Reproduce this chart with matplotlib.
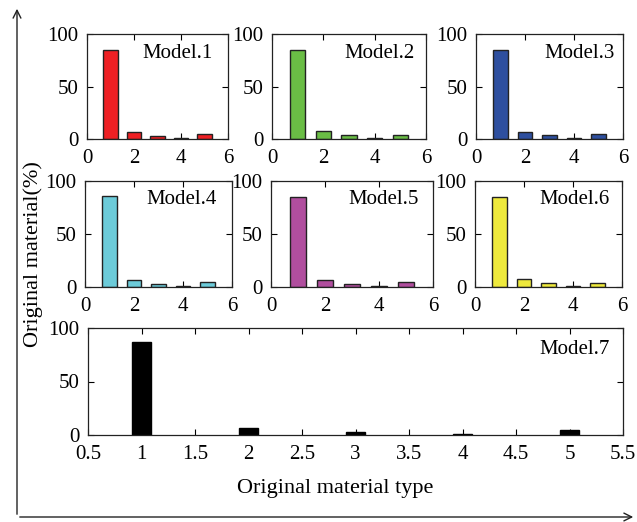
import matplotlib
matplotlib.use('Agg')
import matplotlib.pyplot as plt

plt.rcParams['font.family'] = ['Liberation Serif', 'DejaVu Serif']
plt.rcParams['font.size'] = 15

# original material share (%) per type, one list per model
types = [1, 2, 3, 4, 5]
model1 = [85, 7, 3, 1, 5]
model2 = [85, 8, 4, 1, 4]
model3 = [85, 7, 4, 1, 5]
model4 = [86, 7, 3, 1, 5]
model5 = [85, 7, 3, 1, 5]
model6 = [85, 8, 4, 1, 4]
model7 = [87, 7, 3, 1, 5]

names = ['Model.1', 'Model.2', 'Model.3', 'Model.4', 'Model.5', 'Model.6', 'Model.7']
colors = ['#ee2024', '#6abd45', '#2e4f9f', '#6ccbd9', '#b04e9e', '#eee93c', '#000000']
series = [model1, model2, model3, model4, model5, model6, model7]

W, H = 637, 522
fig = plt.figure(figsize=(W / 100, H / 100), dpi=100)

def px_axes(x0, x1, y0, y1):
    # pixel box (left, right, top, bottom) -> figure axes
    return fig.add_axes([x0 / W, 1 - y1 / H, (x1 - x0) / W, (y1 - y0) / H])

boxes = [(87, 228, 34, 139), (272, 426, 34, 139), (476, 623, 34, 139),
         (85, 232, 181, 287), (271, 433, 181, 287), (475, 622, 181, 287),
         (88, 623, 328, 435)]
# gap (px) between the model label and the right spine
label_gap = [15, 11, 8, 15, 14, 12, 13]

for i in range(7):
    x0, x1, y0, y1 = boxes[i]
    ax = px_axes(x0, x1, y0, y1)
    ax.set_axisbelow(True)
    if i < 6:
        ax.bar(types, series[i], width=0.6, color=colors[i], edgecolor='#222222', linewidth=1.0, zorder=2)
        ax.set_xlim(0, 6)
        ax.set_xticks([0, 2, 4, 6])
        ty = 1 - 19 / (y1 - y0)
    else:
        ax.bar(types, series[i], width=0.17, color=colors[i], edgecolor='black', linewidth=1.0, zorder=2)
        ax.set_xlim(0.5, 5.5)
        ax.set_xticks([0.5, 1, 1.5, 2, 2.5, 3, 3.5, 4, 4.5, 5, 5.5])
        ax.set_xticklabels(['0.5', '1', '1.5', '2', '2.5', '3', '3.5', '4', '4.5', '5', '5.5'])
        ty = 1 - 22 / (y1 - y0)
    ax.text(1 - label_gap[i] / (x1 - x0), ty, names[i], transform=ax.transAxes,
            ha='right', va='center', fontsize=15)
    ax.set_ylim(0, 100)
    ax.set_yticks([0, 50, 100])
    ax.tick_params(axis='x', direction='in', top=True, length=4, width=0.8, labelsize=15, pad=7)
    ax.tick_params(axis='y', direction='in', right=True, length=4, width=0.8, labelsize=15, pad=6)
    for s in ax.spines.values():
        s.set_linewidth(0.9)
        s.set_color('#222222')
        s.set_zorder(3)

fig.text(33 / W, 1 - 254 / H, 'Original material(%)', rotation=90, ha='center', va='center', fontsize=16)
fig.text(335 / W, 1 - 488 / H, 'Original material type', ha='center', va='center', fontsize=16)

# outer arrow frame
fig.add_artist(matplotlib.patches.FancyArrowPatch((17 / W, 1 - 517 / H), (17 / W, 1 - 6 / H),
               transform=fig.transFigure, arrowstyle='->', mutation_scale=14, lw=1.0, color='#222222'))
fig.add_artist(matplotlib.patches.FancyArrowPatch((17 / W, 1 - 517 / H), (636 / W, 1 - 517 / H),
               transform=fig.transFigure, arrowstyle='->', mutation_scale=14, lw=1.0, color='#222222'))

fig.savefig('out.png', dpi=100)
